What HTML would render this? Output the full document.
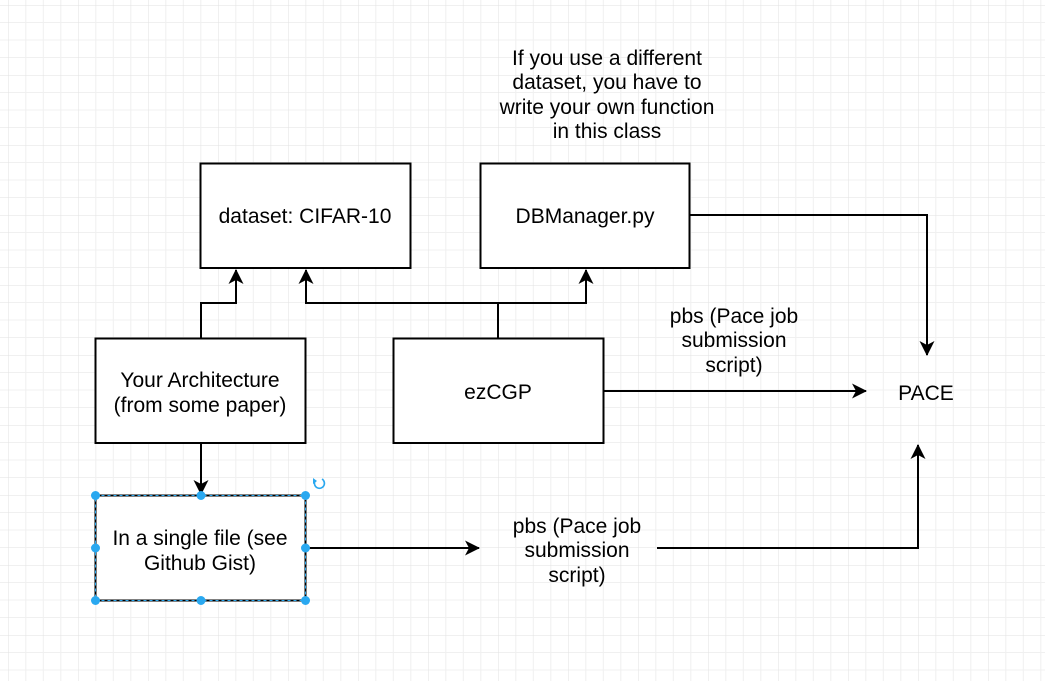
<!DOCTYPE html>
<html><head><meta charset="utf-8"><style>
html,body{margin:0;padding:0;background:#fff;}
svg{display:block;}
text{font-family:"Liberation Sans",Arial,sans-serif;font-size:21px;fill:#000;}
</style></head><body>
<svg width="1045" height="681" viewBox="0 0 1045 681" xmlns="http://www.w3.org/2000/svg">
<defs>
<pattern id="g" x="8.3" y="5" width="70" height="70" patternUnits="userSpaceOnUse">
<path d="M17.5 0V70M35 0V70M52.5 0V70M0 17.5H70M0 35H70M0 52.5H70" stroke="#f0f0f0" stroke-width="1" fill="none"/>
<path d="M0 0V70M0 0H70" stroke="#e2e2e2" stroke-width="1" fill="none"/>
</pattern>
<marker id="a" markerWidth="16" markerHeight="16" refX="14" refY="7.5" orient="auto" markerUnits="userSpaceOnUse"><path d="M0 0L15 7.5L0 15L4 7.5Z" fill="#000"/></marker>
</defs>
<rect width="1045" height="681" fill="url(#g)"/>
<g fill="#fff" stroke="#000" stroke-width="2">
<rect x="200.5" y="163.5" width="210" height="104.5"/>
<rect x="480.5" y="163.5" width="209" height="104.5"/>
<rect x="95.5" y="338.5" width="210" height="104.5"/>
<rect x="393.5" y="338.5" width="210" height="104.5"/>
<rect x="95.5" y="495.5" width="210" height="105"/>
</g>
<rect x="95.5" y="495.5" width="210" height="105" fill="none" stroke="#29a8f0" stroke-width="1" stroke-dasharray="3 3"/>
<g fill="none" stroke="#000" stroke-width="2">
<path d="M201 338V303H236V270" marker-end="url(#a)"/>
<path d="M498 338V303H306V270" marker-end="url(#a)"/>
<path d="M498 303H586V270" marker-end="url(#a)"/>
<path d="M690 215H927V355" marker-end="url(#a)"/>
<path d="M603 391H866" marker-end="url(#a)"/>
<path d="M201 443V494" marker-end="url(#a)"/>
<path d="M305 548H479" marker-end="url(#a)"/>
<path d="M657 548H918V445" marker-end="url(#a)"/>
</g>
<g fill="#29a8f0">
<circle cx="95.5" cy="495.5" r="4.5"/><circle cx="201" cy="495.5" r="4.5"/><circle cx="305.5" cy="495.5" r="4.5"/>
<circle cx="95.5" cy="548" r="4.5"/><circle cx="305.5" cy="548" r="4.5"/>
<circle cx="95.5" cy="600.5" r="4.5"/><circle cx="201" cy="600.5" r="4.5"/><circle cx="305.5" cy="600.5" r="4.5"/>
</g>
<path d="M322 479A5 5 0 1 1 315 481" fill="none" stroke="#29a8f0" stroke-width="1.6"/>
<path d="M313 478L317 481L313 484Z" fill="#29a8f0"/>
<g text-anchor="middle">
<text x="305" y="223">dataset: CIFAR-10</text>
<text x="585" y="223">DBManager.py</text>
<text x="200" y="387">Your Architecture</text>
<text x="200" y="412">(from some paper)</text>
<text x="498" y="399">ezCGP</text>
<text x="200" y="545">In a single file (see</text>
<text x="200" y="570">Github Gist)</text>
<text x="926" y="400">PACE</text>
<text x="607" y="65">If you use a different</text>
<text x="607" y="89">dataset, you have to</text>
<text x="607" y="114">write your own function</text>
<text x="607" y="138">in this class</text>
<text x="734" y="323">pbs (Pace job</text>
<text x="734" y="347">submission</text>
<text x="734" y="372">script)</text>
<text x="577" y="533">pbs (Pace job</text>
<text x="577" y="557">submission</text>
<text x="577" y="582">script)</text>
</g>
</svg>
</body></html>
